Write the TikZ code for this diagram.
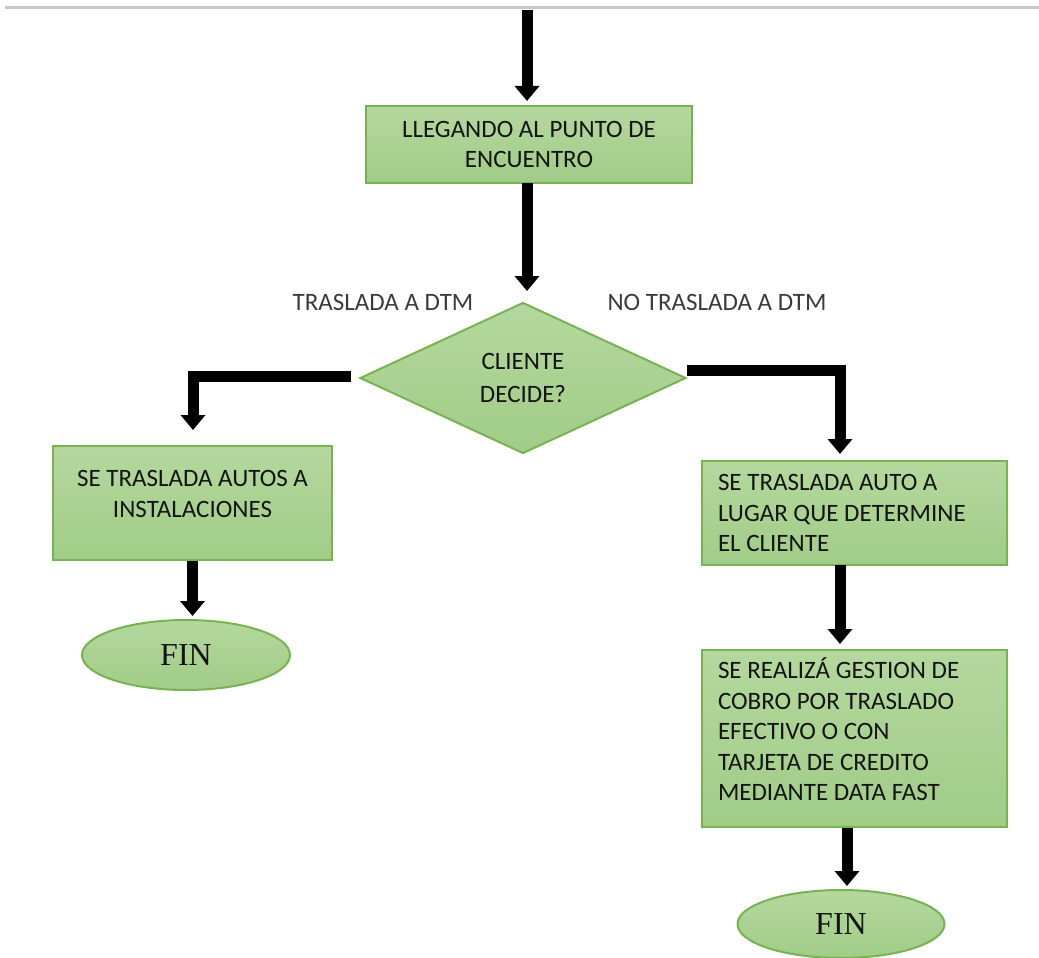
\documentclass[tikz,border=0pt]{standalone}
\usepackage{fontspec}
\setmainfont{Carlito}
\newfontfamily\finfont{Liberation Serif}
\usetikzlibrary{arrows.meta,shapes.geometric,calc}

\definecolor{boxtop}{HTML}{B4D89E}
\definecolor{boxbot}{HTML}{A1CC87}
\definecolor{boxline}{HTML}{78B352}
\definecolor{ink}{HTML}{141414}
\definecolor{lbl}{HTML}{3A3A3A}
\definecolor{rule}{HTML}{C8C8C8}

\tikzset{
  flowbox/.style={draw=boxline, line width=2pt, top color=boxtop, bottom color=boxbot,
    text=ink, font=\fontsize{25}{30.5}\selectfont, inner sep=0pt},
  decbox/.style={diamond, draw=boxline, line width=2pt, top color=boxtop, bottom color=boxbot,
    text=ink, font=\fontsize{25}{33}\selectfont, inner sep=0pt, align=center},
  endbox/.style={ellipse, draw=boxline, line width=2pt, top color=boxtop, bottom color=boxbot,
    text=ink, font=\finfont\fontsize{32}{36}\selectfont, inner sep=0pt},
  branch/.style={text=lbl, font=\fontsize{25}{30}\selectfont},
  flow/.style={line width=11pt, draw=black, line join=miter,
    -{Triangle[width=24pt,length=15pt]}},
}

\begin{document}
\begin{tikzpicture}[x=1pt,y=-1pt]
\useasboundingbox (0,0) rectangle (1039,958);

% top rule of the page
\draw[rule, line width=3pt] (5,8) -- (1039,8);

% process steps
\node[flowbox, minimum width=326pt, minimum height=77pt, align=center] (meet) at (529,144.5)
  {LLEGANDO AL PUNTO DE\\ENCUENTRO};
\node[decbox, minimum width=326pt, minimum height=151pt] (dec) at (523,378)
  {CLIENTE\\DECIDE?};
\node[branch] (lyes) at (383,302) {TRASLADA A DTM};
\node[branch] (lno) at (717,302) {NO TRASLADA A DTM};

\node[flowbox, minimum width=279pt, minimum height=114pt, align=center] (inst) at (192.5,503)
  {SE TRASLADA AUTOS A\\INSTALACIONES\\[-12pt]\mbox{}};
\node[endbox, minimum width=208pt, minimum height=70pt] (fin1) at (186,655) {FIN};

\node[flowbox, minimum width=305pt, minimum height=104pt, align=flush left, text width=273pt] (lugar) at (854.5,513)
  {SE TRASLADA AUTO A\\LUGAR QUE DETERMINE\\EL CLIENTE};
\node[flowbox, minimum width=305pt, minimum height=177pt, align=flush left, text width=273pt] (cobro) at (854.5,738.5)
  {SE REALIZÁ GESTION DE\\COBRO POR TRASLADO\\EFECTIVO O CON\\TARJETA DE CREDITO\\MEDIANTE DATA FAST\\[-12pt]\mbox{}};
\node[endbox, minimum width=207pt, minimum height=68pt] (fin2) at (841,924) {FIN};

% connector end points
\coordinate (top) at (527,10);
\coordinate (meetin) at (527,101);
\coordinate (meetout) at (527,183);
\coordinate (decin) at (527,291);
\coordinate (leftin) at (193,430);
\coordinate (rightin) at (840,454);
\coordinate (lugarout) at (840,565);
\coordinate (cobroin) at (840,644);
\coordinate (cobroout) at (847,828);
\coordinate (fin2in) at (847,886);

% connectors
\draw[flow] (top) -- (meetin);
\draw[flow] (meetout) -- (decin);
\draw[flow] ([xshift=-8pt,yshift=2pt]dec.west) -| (leftin);
\draw[flow] ([yshift=8pt]dec.east) -| (rightin);
\draw[flow] (inst.south) -- ([yshift=3pt]fin1.north -| inst.south);
\draw[flow] (lugarout) -- (cobroin);
\draw[flow] (cobroout) -- (fin2in);
\end{tikzpicture}
\end{document}
